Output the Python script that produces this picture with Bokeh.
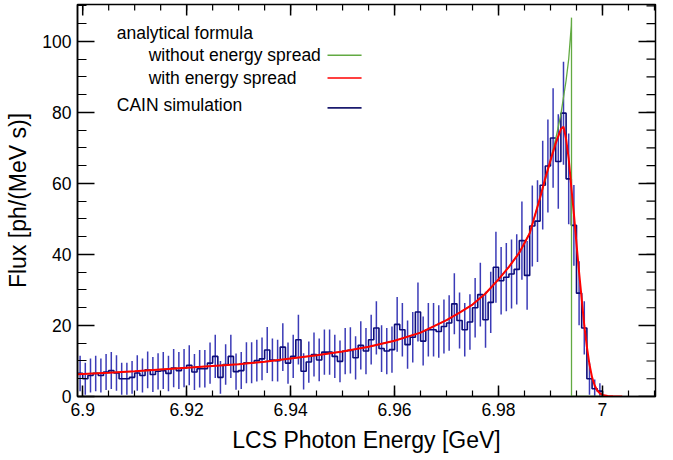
import numpy as np
from bokeh.plotting import figure
from bokeh.models import (Range1d, FixedTicker, CustomJSTickFormatter, Label, Arrow)
from bokeh.embed import file_html
from bokeh.resources import INLINE

FONT = "Liberation Sans"

# ---------------- data ----------------
# CAIN simulation histogram (bin width 0.001 GeV, first bin starts at 6.899 GeV)
bin_start = 6.899
bin_width = 0.001
cain_flux = [
    6.5, 5.0, 5.9, 6.5, 5.9, 6.9, 7.3, 6.6, 5.0, 5.0,
    5.4, 6.6, 5.9, 7.5, 6.2, 7.1, 7.3, 6.5, 8.0, 7.3,
    8.0, 8.8, 6.9, 7.8, 7.8, 9.4, 11.3, 5.4, 9.0, 11.3,
    7.0, 7.3, 9.5, 9.5, 10.1, 10.6, 13.1, 10.3, 10.1, 13.9,
    9.4, 11.3, 16.0, 7.1, 9.7, 11.8, 10.3, 12.5, 12.5, 11.3,
    9.9, 12.8, 13.0, 10.9, 14.4, 12.8, 16.0, 19.3, 13.5, 12.8,
    13.2, 20.3, 18.8, 14.6, 16.7, 23.8, 15.6, 18.8, 18.8, 18.3,
    19.7, 20.7, 26.1, 21.4, 18.8, 21.0, 25.0, 28.7, 21.6, 26.5,
    36.4, 32.6, 33.6, 34.5, 35.8, 43.9, 34.1, 48.0, 49.4, 59.5,
    64.9, 72.8, 66.2, 79.8, 61.3, 48.2, 29.1, 19.3, 5.0, 2.2,
    1.5,
]
cain_err = [
    5.0, 4.5, 4.8, 5.0, 4.8, 5.1, 5.2, 5.0, 4.5, 4.5,
    4.6, 5.0, 4.8, 5.2, 4.9, 5.1, 5.2, 5.0, 5.4, 5.2,
    5.4, 5.6, 5.1, 5.3, 5.3, 5.8, 6.1, 4.6, 5.7, 6.1,
    5.1, 5.2, 5.8, 5.8, 5.9, 6.0, 6.5, 6.0, 5.9, 6.7,
    5.8, 6.1, 7.0, 5.1, 5.8, 6.2, 6.0, 6.4, 6.4, 6.1,
    5.9, 6.5, 6.5, 6.1, 6.8, 6.5, 7.0, 7.5, 6.6, 6.5,
    6.5, 7.7, 7.5, 6.8, 7.1, 8.3, 6.9, 7.5, 7.5, 7.4,
    7.6, 7.8, 8.6, 7.9, 7.5, 7.8, 8.4, 9.0, 7.9, 8.6,
    10.0, 9.5, 9.6, 9.7, 9.9, 11.0, 9.7, 11.4, 11.5, 12.5,
    13.1, 14.0, 13.3, 14.5, 12.8, 11.4, 9.0, 7.5, 4.5, 2.6,
    2.2,
]

# analytical formula, with energy spread
spread_energy = [6.899, 6.905, 6.910, 6.915, 6.920, 6.925, 6.930, 6.935, 6.940,
                 6.945, 6.950, 6.955, 6.960, 6.965, 6.970, 6.9725, 6.975, 6.9775,
                 6.980, 6.982, 6.984, 6.986, 6.987, 6.988, 6.989, 6.990, 6.991,
                 6.992, 6.9925, 6.993, 6.9935, 6.994, 6.9945, 6.995, 6.9955,
                 6.996, 6.9965, 6.997, 6.9975, 6.998, 6.9985, 6.999, 6.9995,
                 7.000, 7.001, 7.002, 7.0038]
spread_flux = [6.3, 6.7, 7.1, 7.6, 8.1, 8.6, 9.1, 9.8, 10.7,
               11.6, 12.7, 14.0, 15.7, 18.0, 21.5, 23.6, 25.9, 29.0,
               33.0, 36.5, 40.5, 46.0, 51.0, 56.0, 61.5, 66.5, 71.3,
               75.3, 76.0, 72.5, 67.0, 59.0, 51.5, 43.0, 35.0,
               27.5, 20.0, 14.0, 9.0, 5.4, 3.1, 1.7, 0.9,
               0.45, 0.15, 0.04, 0.0]

# analytical formula, without energy spread
nospread_energy = [6.899, 6.905, 6.910, 6.915, 6.920, 6.925, 6.930, 6.935, 6.940,
                   6.945, 6.950, 6.955, 6.960, 6.965, 6.970, 6.9725, 6.975, 6.9775,
                   6.980, 6.982, 6.984, 6.986, 6.987, 6.988, 6.989, 6.990, 6.991,
                   6.992, 6.993, 6.9935, 6.994, 6.99404, 6.99404, 7.000]
nospread_flux = [6.3, 6.7, 7.1, 7.6, 8.1, 8.6, 9.1, 9.8, 10.7,
                 11.6, 12.7, 14.0, 15.7, 18.0, 21.5, 23.6, 25.9, 29.0,
                 33.0, 36.5, 40.5, 46.0, 51.0, 56.0, 61.0, 66.5, 72.5,
                 79.5, 89.0, 95.0, 104.5, 106.7, 0.0, 0.0]

x_major = [6.9, 6.92, 6.94, 6.96, 6.98, 7.0]
x_minor = [round(6.9 + 0.005 * i, 3) for i in range(23)]
y_major = [0, 20, 40, 60, 80, 100]
y_minor = [5 * i for i in range(23)]

# ---------------- derived ----------------
edges = bin_start + bin_width * np.arange(len(cain_flux) + 1)
centers = edges[:-1] + bin_width / 2
flux = np.array(cain_flux)
err = np.array(cain_err)

X0, X1 = 6.899, 7.0102
Y0, Y1 = 0.0, 110.4
W, H = 673, 460
BL, BR, BT, BB = 77, 18, 4, 64
frame_w = W - BL - BR
frame_h = H - BT - BB
dx_per_px = (X1 - X0) / frame_w
dy_per_px = (Y1 - Y0) / frame_h

# ---------------- figure ----------------
p = figure(width=W, height=H, output_backend="svg", toolbar_location=None,
           x_range=Range1d(X0, X1), y_range=Range1d(Y0, Y1),
           min_border_left=BL, min_border_right=BR, min_border_top=BT,
           min_border_bottom=BB)
p.xgrid.visible = False
p.ygrid.visible = False
p.outline_line_color = "black"
p.outline_line_width = 1.5
p.background_fill_color = "white"
p.border_fill_color = "white"

fmt = CustomJSTickFormatter(code="return (Math.round(tick*1000)/1000).toString();")

def style_axis(ax, major_len, minor_len):
    ax.axis_line_color = "black"
    ax.axis_line_width = 1.5
    ax.major_tick_line_color = "black"
    ax.major_tick_line_width = 1.5
    ax.minor_tick_line_color = "black"
    ax.minor_tick_line_width = 1.2
    ax.major_tick_in = major_len
    ax.major_tick_out = 0
    ax.minor_tick_in = minor_len
    ax.minor_tick_out = 0
    ax.major_label_text_font = FONT
    ax.major_label_text_color = "black"
    ax.major_label_text_font_size = "17.5px"
    ax.major_label_standoff = 6
    ax.axis_label_text_font = FONT
    ax.axis_label_text_font_size = "23px"
    ax.axis_label_text_font_style = "normal"
    ax.axis_label_text_color = "black"
    ax.axis_label_standoff = 8

xa = p.xaxis[0]
xa.ticker = FixedTicker(ticks=x_major, minor_ticks=x_minor)
xa.formatter = fmt
style_axis(xa, 11, 6)
xa.axis_label = "LCS Photon Energy [GeV]"

ya = p.yaxis[0]
ya.ticker = FixedTicker(ticks=y_major, minor_ticks=y_minor)
style_axis(ya, 17, 9)
ya.axis_label = "Flux [ph/(MeV s)]"

# mirrored ticks on the top and right frame edges (no labels)
xm = np.array(x_major); xn = np.array(x_minor)
p.segment(x0=xm, y0=Y1, x1=xm, y1=Y1 - 11 * dy_per_px, line_color="black", line_width=1.5)
p.segment(x0=xn, y0=Y1, x1=xn, y1=Y1 - 6 * dy_per_px, line_color="black", line_width=1.2)
ym = np.array(y_major, dtype=float); yn = np.array(y_minor, dtype=float)
p.segment(x0=X1, y0=ym, x1=X1 - 17 * dx_per_px, y1=ym, line_color="black", line_width=1.5)
p.segment(x0=X1, y0=yn, x1=X1 - 9 * dx_per_px, y1=yn, line_color="black", line_width=1.2)

# error bars
p.segment(x0=centers, y0=flux - err, x1=centers, y1=flux + err,
          line_color="#2020ad", line_width=1.5, line_alpha=0.88)
# histogram
p.step(x=edges, y=list(cain_flux) + [0.0], mode="after",
       line_color="#0c0c78", line_width=1.6)
# analytical curves
GREEN = "#62aa42"
RED = "#ff0000"
NAVY = "#1a1a6e"
p.line(nospread_energy, nospread_flux, line_color=GREEN, line_width=1.3)
p.line(spread_energy, spread_flux, line_color=RED, line_width=2)

# legend (text left, sample line right)
def add_label(x, y, text):
    p.add_layout(Label(x=x, y=y, text=text, text_font=FONT, text_font_size="17.5px",
                       text_baseline="middle", text_align="left", text_color="black"))

add_label(6.90655, 102.4, "analytical formula")
add_label(6.91269, 96.1, "without energy spread")
add_label(6.91269, 89.8, "with energy spread")
add_label(6.90655, 82.0, "CAIN simulation")
for yv, col in ((96.1, GREEN), (89.7, RED), (81.3, NAVY)):
    p.add_layout(Arrow(end=None, x_start=6.9471, y_start=yv, x_end=6.95365, y_end=yv,
                       line_color=col, line_width=1.6))

open("out.html", "w").write(file_html(p, INLINE))
